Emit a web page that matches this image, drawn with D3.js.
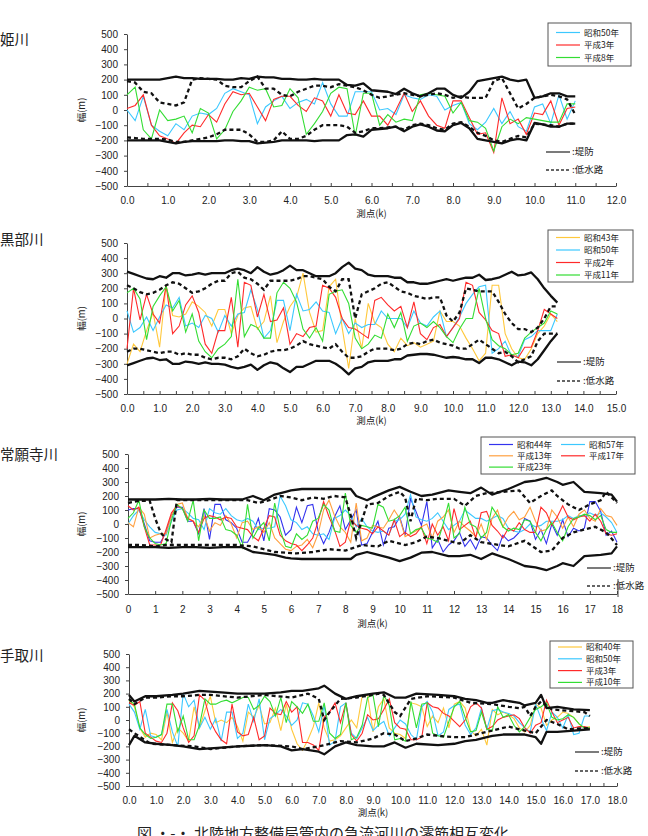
<!DOCTYPE html>
<html>
<head>
<meta charset="utf-8">
<script src="https://cdn.jsdelivr.net/npm/d3@7"></script>
<style>
	body { margin: 0; background: #fff; overflow: hidden; }
	svg text { font-family: "Noto Sans CJK JP", "Noto Sans", sans-serif; fill: #222; }
	.axis path, .axis line { stroke: #444; }
	.axis text { font-family: "Liberation Sans", Arial, sans-serif; font-size: 10px; fill: #222; }
	.river { font-size: 14.5px; }
	.title { font-size: 9.5px; }
	.legend text { font-size: 8.5px; }
	.key text { font-size: 9.5px; }
</style>
</head>
<body>
<div id="picture"></div>
<script>
const stationStep = 0.2;   // km between survey points
const yTicks = d3.range(-500, 501, 100);

// ---------- 姫川 ----------
const himeYears   = ["昭和50年", "平成3年", "平成8年"];
const himeS50     = [0,-70,90,-100,-140,-170,-90,-130,-40,-20,-30,10,110,140,120,100,-90,20,60,90,10,50,70,40,180,40,-40,-40,120,120,120,0,10,-30,100,80,70,100,90,0,30,50,-90,-130,-80,10,-90,-10,-110,-140,20,40,-90,100,-60,60];
const himeH3      = [10,30,100,-100,-170,-190,-220,-150,-100,-110,-30,-80,40,120,100,110,20,-70,70,90,90,30,-10,80,60,-40,100,-20,-30,60,-40,-40,-100,0,110,-10,60,-40,-100,-120,60,60,-50,-160,-150,-280,80,-90,-60,-160,-20,-30,60,-100,10,20];
const himeH8      = [100,150,-130,-190,0,-70,-60,-40,-150,10,-20,-190,-130,-10,60,150,130,140,20,30,140,80,-160,-90,-10,110,150,140,-170,110,110,-100,-30,-80,-60,-70,100,110,100,90,-20,50,-70,-80,-120,-270,-110,-60,-90,-50,-60,-70,-80,-80,40,40];
const himeLeveeUp = [200,200,200,200,200,210,220,210,210,205,205,205,200,200,210,205,220,215,215,205,205,200,200,205,200,200,200,165,160,175,130,125,120,105,140,110,90,110,140,140,100,80,120,190,200,210,220,200,190,200,80,90,110,110,90,90];
const himeLeveeLo = [-200,-200,-200,-200,-200,-210,-220,-210,-205,-205,-205,-205,-200,-200,-205,-205,-220,-215,-210,-200,-200,-200,-200,-205,-200,-200,-200,-165,-160,-175,-130,-125,-120,-110,-140,-110,-95,-110,-135,-140,-100,-85,-120,-190,-200,-210,-220,-200,-190,-200,-85,-95,-110,-110,-90,-90];
const himeLowUp   = [190,180,120,110,50,40,30,50,200,210,205,200,160,150,150,190,220,140,140,100,90,120,140,160,160,150,170,160,150,130,100,80,90,100,110,100,90,100,110,100,80,90,80,80,80,190,210,110,10,40,80,90,100,90,70,-30];
const himeLowLo   = [-180,-185,-190,-190,-190,-195,-210,-210,-200,-190,-180,-160,-130,-130,-130,-160,-210,-210,-200,-140,-190,-190,-170,-130,-100,-100,-100,-110,-150,-140,-120,-120,-115,-110,-130,-100,-90,-100,-120,-130,-90,-80,-110,-150,-170,-200,-210,-190,-170,-180,-90,-95,-100,-110,-90,-90];

// ---------- 黒部川 ----------
const kuroYears   = ["昭和43年", "昭和50年", "平成2年", "平成11年"];
const kuroS43     = [-300,-170,-220,-80,40,-190,220,20,10,30,110,80,40,-50,60,60,-100,20,70,80,-70,-20,150,-160,-20,80,140,300,40,-90,-80,210,260,-60,-330,0,-200,100,-30,-60,-170,-220,-130,-180,-160,-190,-170,-150,50,-20,-20,-50,-130,-200,-280,-230,220,220,-100,-200,-260,-270,-200,-100,-50,30,-20];
const kuroS50     = [50,-90,-60,10,-80,10,90,70,140,-50,-30,-60,20,0,-90,20,-50,30,40,190,60,-130,-80,120,120,-80,160,50,60,110,50,40,-100,0,-100,-30,-60,-40,-40,50,0,0,0,-60,50,-30,-50,10,50,-120,-60,10,100,160,210,220,-230,-200,-150,-250,-250,-140,-120,-80,-80,-80,30];
const kuroH2      = [-200,200,-10,160,30,-30,220,-100,-50,90,150,40,-170,-230,-80,-80,140,-190,240,220,10,160,-20,-10,70,-170,-100,-120,-60,-50,220,200,140,0,-60,-70,-100,-130,120,140,90,50,80,-60,110,-100,-140,-60,-40,-120,-60,0,240,220,40,-10,-80,-100,-250,-240,-260,-190,-190,-80,60,30,0];
const kuroH11     = [170,200,130,-140,80,150,210,50,120,-90,30,-150,-220,-260,-200,-170,-120,260,-120,-40,-60,-130,-130,170,240,200,110,-70,-130,-60,-150,160,180,190,100,-130,-200,-170,-110,-130,30,-60,40,-150,-50,-30,-60,-20,-60,-120,-160,-70,0,0,200,0,-140,-180,-200,-240,-230,-130,-90,-60,-30,50,30];
const kuroLeveeUp = [310,295,280,265,260,280,270,300,300,285,290,300,290,300,300,300,320,330,320,300,340,310,290,300,320,350,320,320,300,280,280,280,300,340,370,330,320,290,280,280,280,270,270,240,240,230,230,240,250,260,250,260,270,270,290,255,260,270,290,310,285,290,305,260,200,150,105];
const kuroLeveeLo = [-310,-295,-280,-265,-260,-275,-270,-300,-300,-285,-290,-300,-290,-300,-300,-305,-320,-330,-320,-305,-340,-310,-290,-300,-330,-355,-320,-320,-300,-280,-280,-280,-300,-330,-370,-330,-320,-290,-280,-280,-280,-270,-270,-245,-240,-235,-235,-240,-250,-260,-255,-260,-270,-270,-295,-260,-260,-270,-290,-310,-285,-290,-310,-270,-210,-150,-100];
const kuroLowUp   = [220,200,175,160,170,190,220,240,230,200,170,180,200,230,250,250,300,310,270,260,230,190,250,250,250,250,260,280,280,270,260,210,180,260,260,0,160,180,200,230,240,210,180,170,150,140,130,140,140,20,-20,40,200,190,180,180,180,110,30,-30,-70,-70,-90,-60,0,80,80];
const kuroLowLo   = [-220,-200,-200,-210,-220,-230,-220,-220,-240,-230,-240,-240,-260,-270,-260,-260,-270,-250,-200,-230,-250,-240,-220,-210,-210,-200,-180,-150,-170,-180,-190,-200,-170,-220,-260,-260,-250,-220,-200,-200,-200,-210,-200,-170,-160,-170,-150,-140,-160,-170,-180,-200,-200,-170,-140,-170,-200,-230,-220,-250,-290,-270,-250,-150,-100,-100,-100];

// ---------- 常願寺川 ----------
const jouYears    = ["昭和44年", "昭和57年", "平成13年", "平成17年", "平成23年"];
const jouS44      = [100,110,110,0,-120,-130,-130,-60,60,120,120,20,20,-70,110,-110,140,140,30,10,-30,-130,-130,-60,40,-120,110,100,50,-80,-40,120,10,130,140,-50,-140,-60,50,130,-40,30,100,-150,-140,-60,20,-150,-30,-20,50,-80,180,90,-10,160,-170,-110,-200,-150,-120,-60,-160,-110,-180,-90,-100,-150,-190,-80,-120,-100,-60,40,20,-110,-40,-140,0,-80,30,-90,-30,-50,-30,160,160,90,-80,-50,-130];
const jouS57      = [0,60,100,30,-20,-60,-70,-80,20,100,110,80,40,30,-40,110,80,70,110,60,30,20,40,20,-40,-30,-30,-20,200,130,30,10,-40,-20,-70,-80,-70,-110,40,60,100,60,-20,40,-20,-50,-60,-50,-80,20,30,70,210,50,30,20,40,80,20,-40,-10,20,100,70,40,40,20,40,60,40,-30,-50,-60,-40,0,-20,-10,20,20,20,30,60,40,60,60,80,60,80,50,10,-60];
const jouH13      = [10,-20,120,70,-100,-80,-70,-70,60,140,150,40,20,-20,60,-50,10,-10,60,0,-100,10,20,-40,-20,-60,10,-100,-140,-180,-190,-160,-150,-110,-170,-70,100,170,60,-20,-60,-130,150,-120,-100,-10,-20,-30,30,100,40,-90,-70,-50,-20,0,-100,20,50,100,-60,20,-20,-50,-90,0,-110,40,100,-20,50,90,30,50,120,20,-50,-40,100,50,-30,50,-20,70,100,40,20,110,60,50,-10];
const jouH17      = [130,100,120,-20,-150,-150,-150,-40,80,130,110,40,20,-60,40,60,50,30,50,40,-20,-30,-40,-90,-120,-30,60,50,-80,-120,-140,-150,-190,-150,-100,20,160,50,-40,-160,-130,30,-10,-30,-40,-70,-20,-50,-80,30,-90,-60,-90,-70,-20,-140,0,-80,-20,-120,110,-40,-10,20,-100,80,90,-10,-50,-100,-30,-50,10,-40,-60,-60,120,80,-10,50,130,50,30,50,60,20,70,20,-70,-80,-70];
const jouH23      = [40,80,170,-20,-100,-140,-150,-140,30,140,110,20,170,-120,100,40,40,50,-40,-50,-80,-170,140,-100,-30,10,-120,150,-40,-160,-170,-70,-110,-80,20,40,140,100,-50,-60,220,-10,-60,-10,-20,-30,140,120,20,30,60,120,-70,-40,-30,-100,-110,-130,0,150,-100,-70,120,0,-20,-100,-60,120,60,-20,-50,-30,-40,30,20,-60,-120,-40,10,-60,-120,-20,40,50,70,60,30,60,-40,-60,-60];
const jouLeveeK   = [0,0.5,1,1.5,2,2.5,3,3.5,4,4.2,4.6,5.0,5.4,5.8,6.0,6.4,7,7.6,8.2,8.4,8.8,9.0,9.6,10.0,10.4,10.8,11.2,11.8,12.2,12.6,13.0,13.4,14.0,14.6,15.0,15.4,15.8,16.0,16.4,16.8,17.4,17.8,18.0];
const jouLeveeUp  = [175,175,175,180,175,175,180,175,175,175,200,170,210,230,240,250,250,250,250,200,170,190,240,265,230,200,210,240,230,220,260,210,250,300,310,330,300,280,300,230,220,210,160];
const jouLeveeLo  = [-165,-165,-165,-170,-165,-165,-170,-165,-165,-165,-200,-210,-220,-240,-245,-250,-250,-250,-250,-220,-200,-210,-240,-265,-240,-205,-200,-230,-230,-220,-250,-210,-250,-300,-310,-330,-300,-280,-300,-230,-220,-210,-160];
const jouLowUpK   = [0,0.4,0.8,1.0,1.2,1.4,1.6,1.8,2.2,3,4,4.4,4.8,5.2,5.6,6.0,6.4,6.8,7.2,7.6,8.0,8.2,8.4,8.8,9.2,9.6,10.0,10.2,10.4,10.6,11.0,11.4,12.0,12.4,12.8,13.2,13.8,14.4,14.8,15.2,15.6,15.8,16.2,16.6,17.0,17.4,17.6,18.0];
const jouLowUp    = [150,165,165,40,-60,-110,-130,170,170,170,170,170,150,170,200,190,170,190,180,200,190,60,-100,140,150,200,230,190,20,180,170,180,180,130,200,220,230,240,150,200,240,200,140,100,140,170,230,150];
const jouLowLoK   = [0,0.5,1,1.4,2,3,4,4.6,5.0,5.4,6.2,6.8,7.4,8.0,8.6,9.2,9.6,10.2,10.6,11.0,11.4,12.2,12.6,13.0,14.0,14.6,15.2,15.6,16.0,16.4,16.8,17.2,17.6,18.0];
const jouLowLo    = [-150,-150,-160,-150,-150,-150,-150,-160,-180,-200,-210,-200,-180,-190,-150,-160,-120,-150,-130,-90,-100,-140,-80,-130,-160,-120,-200,-190,-100,-60,-40,-20,-60,-150];

// ---------- 手取川 ----------
const tedoYears   = ["昭和40年", "昭和50年", "平成3年", "平成10年"];
const tedoS40     = [150,100,-60,-130,-100,-110,-150,60,-170,-60,-100,-160,100,-60,70,180,-20,0,-20,20,-50,-160,60,20,110,-30,-20,90,-80,120,-70,-180,-230,-150,-50,130,-60,-160,-150,-120,-60,0,-60,180,190,-90,100,160,-60,-100,-110,-140,130,120,100,-50,30,-20,90,-60,120,140,90,-80,-120,-70,-190,80,40,60,40,10,-60,-90,-40,120,90,-40,0,20,60,50,20,-30,-60,-50];
const tedoS50     = [120,60,-70,80,-120,-130,-110,80,-90,-200,200,100,150,-60,20,-70,10,-160,60,60,-140,-100,120,-10,160,-150,10,40,80,30,-40,0,130,120,30,-90,110,-190,-160,100,130,-100,-140,-60,20,-80,-40,-10,-120,-60,0,-30,-110,-150,100,140,60,-120,-90,80,110,120,-40,-110,-60,90,-70,70,80,60,50,30,-20,-60,-90,120,10,-80,60,20,-60,40,-110,-100,30,30];
const tedoH3      = [130,110,140,-100,-130,-160,-170,-100,130,70,-60,-170,-120,190,150,-10,-90,-150,-180,120,-90,-120,-110,20,-150,-120,90,50,40,140,60,100,-170,-170,-190,-230,20,60,130,-20,130,-110,-160,-100,40,0,10,80,160,-20,-60,-70,-150,-150,-130,130,100,90,50,30,-10,-50,0,100,130,90,-70,-50,0,20,30,40,10,-60,-100,-40,-20,150,60,-20,0,20,-60,-50,-50,-60];
const tedoH10     = [150,120,-60,-110,-140,-130,-110,120,120,-90,30,-150,-150,-40,160,120,120,140,150,130,150,170,170,80,110,180,140,30,170,-20,140,100,50,120,-10,-10,130,-100,-140,-110,130,-150,-130,-40,170,190,-50,190,110,-150,-140,-160,140,-60,120,130,-100,-120,-130,-10,100,140,20,-90,-80,60,-70,-80,100,20,40,-40,-90,-50,20,80,100,130,20,0,10,40,20,-30,-60,-60];
const tedoLeveeK  = [0,0.2,0.6,1.0,1.6,2.0,2.6,3.0,3.4,4.0,5.0,5.6,6.0,6.4,7.0,7.2,7.6,8.0,8.4,9.0,9.4,9.8,10.2,10.6,11.4,12.0,12.4,12.8,13.2,13.4,13.8,14.4,14.6,15.0,15.2,15.4,15.8,16.4,17.0];
const tedoLeveeUp = [190,140,180,180,190,200,220,215,210,200,200,210,220,220,240,260,200,160,180,200,210,170,170,200,190,180,160,150,130,130,150,130,110,130,190,90,100,80,75];
const tedoLeveeLo = [-190,-120,-170,-180,-190,-200,-220,-215,-210,-200,-190,-200,-230,-220,-240,-260,-200,-170,-190,-200,-200,-170,-210,-180,-190,-180,-160,-150,-130,-120,-110,-110,-110,-130,-180,-90,-90,-80,-70];
const tedoLowUpK  = [0,0.2,0.6,1.0,1.6,2.0,2.6,3.0,4.0,5.0,6.0,6.6,7.0,7.2,7.4,7.8,8.4,9.0,9.2,9.4,9.8,10.0,10.4,11.0,12.0,12.6,13.4,14.0,14.4,14.6,14.8,15.0,15.2,15.6,16.2,16.8,17.0];
const tedoLowUp   = [160,120,170,170,180,180,190,190,170,190,170,200,160,0,60,160,170,190,200,190,60,30,160,180,170,130,120,100,90,100,30,100,140,80,70,60,30];
const tedoLowLoK  = [0,0.2,0.8,1.6,2.4,3.0,4.0,5.0,6.0,6.4,7.0,7.8,8.4,9.0,9.4,9.8,10.2,10.6,11.0,11.4,12.0,12.4,13.0,13.4,14.0,14.6,15.0,15.4,15.8,16.2,17.0];
const tedoLowLo   = [-70,-100,-180,-190,-200,-220,-200,-190,-200,-220,-200,-160,-170,-140,-100,-110,-160,-140,-110,-120,-130,-130,-100,-80,-50,-80,-100,0,-30,-70,-60];

const caption = "図 ・-・ 北陸地方整備局管内の急流河川の澪筋相互変化";

const col = {
	cyan:   "#3cc8ff",
	red:    "#ff2a2a",
	green:  "#33dd33",
	gold:   "#ffc83c",
	blue:   "#3333ee",
	orange: "#ffa040"
};

const panels = [
	{
		name: "姫川", nameX: 0, nameY: 40,
		top: 34, bottom: 186, left: 127, right: 616, xMax: 12,
		tickStep: 0.5, fmt: d3.format(".1f"), labelPad: 10.5, titleY: 214,
		series: [[himeYears[0], himeS50, col.cyan], [himeYears[1], himeH3, col.red], [himeYears[2], himeH8, col.green]],
		levee: [[null, himeLeveeUp], [null, himeLeveeLo]],
		low:   [[null, himeLowUp], [null, himeLowLo]],
		legend: { x: 548, y: 23, w: 83, h: 43, row0: 32.5, rowH: 12.5, cols: 1 },
		key: { x: 546, y: 152, gap: 18 }
	},
	{
		name: "黒部川", nameX: 0, nameY: 240,
		top: 243, bottom: 394, left: 127, right: 616, xMax: 15,
		tickStep: 0.5, fmt: d3.format(".1f"), labelPad: 10.5, titleY: 421,
		series: [[kuroYears[0], kuroS43, col.gold], [kuroYears[1], kuroS50, col.cyan], [kuroYears[2], kuroH2, col.red], [kuroYears[3], kuroH11, col.green]],
		levee: [[null, kuroLeveeUp], [null, kuroLeveeLo]],
		low:   [[null, kuroLowUp], [null, kuroLowLo]],
		legend: { x: 548, y: 230, w: 85, h: 52, row0: 237.5, rowH: 12.5, cols: 1 },
		key: { x: 557, y: 362, gap: 19 }
	},
	{
		name: "常願寺川", nameX: 0, nameY: 455,
		top: 454, bottom: 594, left: 128, right: 617, xMax: 18,
		tickStep: 1, fmt: d3.format("d"), labelPad: 11.5, titleY: 624,
		series: [[jouYears[0], jouS44, col.blue], [jouYears[1], jouS57, col.cyan], [jouYears[2], jouH13, col.orange], [jouYears[3], jouH17, col.red], [jouYears[4], jouH23, col.green]],
		levee: [[jouLeveeK, jouLeveeUp], [jouLeveeK, jouLeveeLo]],
		low:   [[jouLowUpK, jouLowUp], [jouLowLoK, jouLowLo]],
		legend: { x: 481, y: 437, w: 154, h: 37, row0: 444.5, rowH: 11.3, cols: 2, colW: 72 },
		key: { x: 587, y: 568, gap: 18, bar: true }
	},
	{
		name: "手取川", nameX: 0, nameY: 656,
		top: 654, bottom: 786, left: 129, right: 617, xMax: 18,
		tickStep: 0.5, fmt: d3.format(".1f"), labelPad: 10.5, titleY: 813,
		series: [[tedoYears[0], tedoS40, col.gold], [tedoYears[1], tedoS50, col.cyan], [tedoYears[2], tedoH3, col.red], [tedoYears[3], tedoH10, col.green]],
		levee: [[tedoLeveeK, tedoLeveeUp], [tedoLeveeK, tedoLeveeLo]],
		low:   [[tedoLowUpK, tedoLowUp], [tedoLowLoK, tedoLowLo]],
		legend: { x: 550, y: 641, w: 83, h: 47, row0: 647, rowH: 11.8, cols: 1 },
		key: { x: 575, y: 752, gap: 19 }
	}
];

const svg = d3.select("#picture")
	.append("svg")
		.attr("width", 648)
		.attr("height", 836);

// pair station km with values
function points(k, v) {
	return v.map((d, i) => [k ? k[i] : i * stationStep, d]);
}

panels.forEach(p => {
	const g = svg.append("g");
	const x = d3.scaleLinear().domain([0, p.xMax]).range([p.left, p.right]);
	const y = d3.scaleLinear().domain([-500, 500]).range([p.bottom, p.top]);
	const line = d3.line().x(d => x(d[0])).y(d => y(d[1]));

	// river name
	g.append("text")
		.attr("class", "river")
		.attr("x", p.nameX)
		.attr("y", p.nameY)
		.attr("dy", "0.36em")
		.text(p.name);

	// axes
	g.append("g")
		.attr("class", "axis")
		.attr("transform", "translate(0," + p.bottom + ")")
		.call(d3.axisBottom(x)
			.tickValues(d3.range(0, p.xMax + 1e-9, p.tickStep))
			.tickSize(-3)
			.tickSizeOuter(0)
			.tickPadding(p.labelPad)
			.tickFormat(d => (Math.abs(d - Math.round(d)) < 1e-6) ? p.fmt(d) : ""));
	g.append("g")
		.attr("class", "axis")
		.attr("transform", "translate(" + p.left + ",0)")
		.call(d3.axisLeft(y)
			.tickValues(yTicks)
			.tickSize(3)
			.tickSizeOuter(0)
			.tickPadding(6));

	// axis titles
	g.append("text")
		.attr("class", "title")
		.attr("text-anchor", "middle")
		.attr("x", (p.left + p.right) / 2)
		.attr("y", p.titleY)
		.attr("dy", "0.36em")
		.text("測点(k)");
	g.append("text")
		.attr("class", "title")
		.attr("text-anchor", "middle")
		.attr("transform", "translate(82," + y(0) + ") rotate(-90)")
		.attr("dy", "0.36em")
		.text("幅(m)");

	// thalweg of each survey year
	p.series.forEach(s => {
		g.append("path")
			.attr("d", line(points(null, s[1])))
			.attr("fill", "none")
			.attr("stroke", s[2])
			.attr("stroke-width", 1.1);
	});

	// levee & low water channel
	p.low.forEach(l => {
		g.append("path")
			.attr("d", line(points(l[0], l[1])))
			.attr("fill", "none")
			.attr("stroke", "#111")
			.attr("stroke-width", 2.3)
			.attr("stroke-dasharray", "4,3");
	});
	p.levee.forEach(l => {
		g.append("path")
			.attr("d", line(points(l[0], l[1])))
			.attr("fill", "none")
			.attr("stroke", "#111")
			.attr("stroke-width", 2.3)
			.attr("stroke-linejoin", "round");
	});

	// legend of years
	const lg = g.append("g").attr("class", "legend");
	lg.append("rect")
		.attr("x", p.legend.x)
		.attr("y", p.legend.y)
		.attr("width", p.legend.w)
		.attr("height", p.legend.h)
		.attr("fill", "#fff")
		.attr("stroke", "#555")
		.attr("stroke-width", 1);
	p.series.forEach((s, i) => {
		const c = i % p.legend.cols
			, r = Math.floor(i / p.legend.cols)
			, lx = p.legend.x + 8 + c * (p.legend.colW || 0)
			, ly = p.legend.row0 + r * p.legend.rowH;
		lg.append("line")
			.attr("x1", lx).attr("x2", lx + 24)
			.attr("y1", ly).attr("y2", ly)
			.attr("stroke", s[2])
			.attr("stroke-width", 1.2);
		lg.append("text")
			.attr("x", lx + 28)
			.attr("y", ly)
			.attr("dy", "0.36em")
			.text(s[0]);
	});

	// key for black lines
	const kg = g.append("g").attr("class", "key");
	[["堤防", null], ["低水路", "3,2"]].forEach((k, i) => {
		const ky = p.key.y + i * p.key.gap;
		kg.append("line")
			.attr("x1", p.key.x).attr("x2", p.key.x + 24)
			.attr("y1", ky).attr("y2", ky)
			.attr("stroke", "#333")
			.attr("stroke-width", 1.3)
			.attr("stroke-dasharray", k[1]);
		kg.append("text")
			.attr("x", p.key.x + 26)
			.attr("y", ky)
			.attr("dy", "0.36em")
			.text(":" + k[0]);
	});
	if(p.key.bar)
		kg.append("line")
			.attr("x1", p.key.x + 31).attr("x2", p.key.x + 31)
			.attr("y1", p.key.y + 11).attr("y2", p.key.y + 29)
			.attr("stroke", "#444");
});

svg.append("text")
	.attr("x", 137)
	.attr("y", 839)
	.attr("font-size", "15px")
	.text(caption);
</script>
</body>
</html>
